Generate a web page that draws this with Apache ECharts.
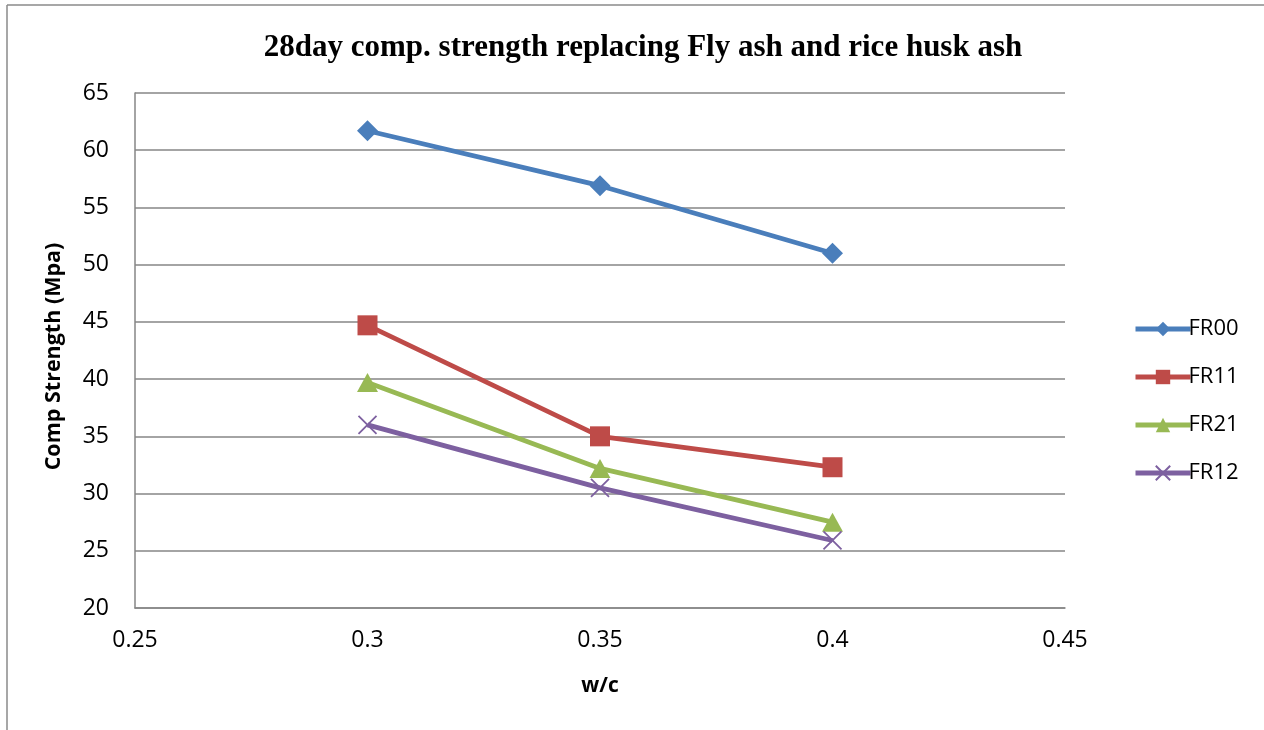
<!DOCTYPE html>
<html>
<head>
<meta charset="utf-8">
<title>28day comp. strength</title>
<script src="https://cdn.jsdelivr.net/npm/echarts@6/dist/echarts.min.js"></script>
<style>
  html, body { margin: 0; padding: 0; background: #fff; }
  #chart { width: 1264px; height: 730px; }
</style>
</head>
<body>
<div id="chart"></div>
<script>
// water/cement ratios and 28-day compressive strength (MPa) per mix
const wcRatios = [0.3, 0.35, 0.4];
const fr00 = [61.7, 56.9, 51.0];
const fr11 = [44.7, 35.0, 32.3];
const fr21 = [39.7, 32.2, 27.5];
const fr12 = [36.0, 30.5, 25.9];
const seriesNames = ['FR00', 'FR11', 'FR21', 'FR12'];
const seriesColors = ['#4a7ebb', '#be4b48', '#98b954', '#7d60a0'];

const pairs = vals => wcRatios.map((x, i) => [x, vals[i]]);

const labelFont = '"Open Sans", "Noto Sans", sans-serif';
const crossPath = 'path://M0,0L10,10M10,0L0,10';

const chart = echarts.init(document.getElementById('chart'));

function lineSeries(name, vals, color, symbol, size, extraItem) {
  return {
    name: name,
    type: 'line',
    data: pairs(vals),
    color: color,
    symbol: symbol,
    symbolSize: size,
    showAllSymbol: true,
    lineStyle: { width: 4.8, color: color },
    itemStyle: Object.assign({ color: color }, extraItem || {}),
    emphasis: { disabled: true },
    z: 3
  };
}

chart.setOption({
  animation: false,
  backgroundColor: '#ffffff',
  graphic: [
    { type: 'line', shape: { x1: 7, y1: 5, x2: 1264, y2: 5 }, style: { stroke: '#8a8a8a', lineWidth: 1.5 } },
    { type: 'line', shape: { x1: 7, y1: 5, x2: 7, y2: 730 }, style: { stroke: '#8a8a8a', lineWidth: 1.5 } }
  ],
  title: {
    text: '28day comp. strength replacing Fly ash and rice husk ash',
    left: 638,
    textAlign: 'center',
    top: 27,
    textStyle: {
      fontFamily: '"Liberation Serif", "DejaVu Serif", serif',
      fontWeight: 'bold',
      fontSize: 31,
      color: '#000'
    }
  },
  legend: {
    orient: 'vertical',
    left: 1128,
    top: 313,
    itemWidth: 55,
    itemHeight: 18,
    itemGap: 26,
    data: seriesNames,
    lineStyle: { width: 5 },
    textStyle: { fontFamily: labelFont, fontSize: 22, color: '#000', padding: [0, 0, 0, -7] },
    selectedMode: false
  },
  grid: { left: 135, top: 93, width: 930, height: 515, containLabel: false },
  xAxis: {
    type: 'value',
    min: 0.25,
    max: 0.45,
    interval: 0.05,
    name: 'w/c',
    nameLocation: 'middle',
    nameGap: 68,
    nameTextStyle: { fontFamily: labelFont, fontWeight: 'bold', fontSize: 21, color: '#000' },
    axisLine: { show: true, lineStyle: { color: '#868686', width: 1.5 } },
    axisTick: { show: false },
    splitLine: { show: false },
    axisLabel: {
      fontFamily: labelFont, fontSize: 23, color: '#000', margin: 21,
      formatter: v => String(+v.toFixed(2))
    }
  },
  yAxis: {
    type: 'value',
    min: 20,
    max: 65,
    interval: 5,
    name: 'Comp Strength (Mpa)',
    nameLocation: 'middle',
    nameGap: 70,
    nameTextStyle: { fontFamily: labelFont, fontWeight: 'bold', fontSize: 21.5, color: '#000', padding: [0, 12, 0, 0] },
    axisLine: { show: true, lineStyle: { color: '#868686', width: 1.5 } },
    axisTick: { show: false },
    splitLine: { show: true, lineStyle: { color: '#868686', width: 1.5 } },
    axisLabel: { fontFamily: labelFont, fontSize: 23, color: '#000', margin: 26 }
  },
  series: [
    lineSeries('FR00', fr00, seriesColors[0], 'diamond', [21, 21]),
    lineSeries('FR11', fr11, seriesColors[1], 'rect', [20, 20]),
    lineSeries('FR21', fr21, seriesColors[2], 'triangle', [21, 19]),
    lineSeries('FR12', fr12, seriesColors[3], crossPath, [18, 18],
      { color: 'rgba(0,0,0,0)', borderColor: seriesColors[3], borderWidth: 1.8 })
  ]
});
</script>
</body>
</html>
